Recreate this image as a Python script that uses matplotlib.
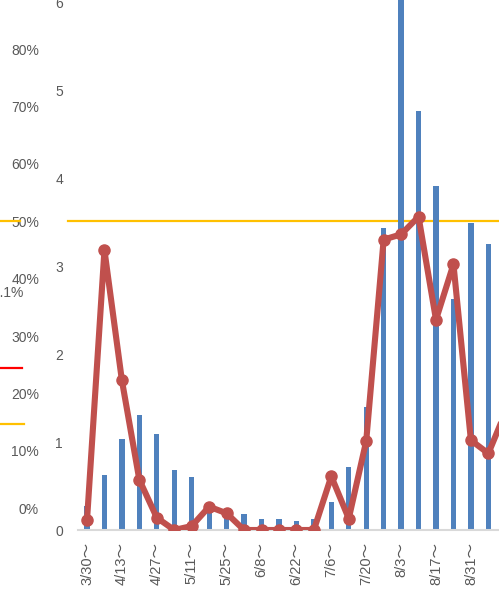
import matplotlib.pyplot as plt
from matplotlib.lines import Line2D

plt.rcParams['font.family'] = ['Liberation Sans', 'Noto Sans CJK JP', 'DejaVu Sans']

# 週 (3/30～ から毎週)
weeks = ["3/30", "4/6", "4/13", "4/20", "4/27", "5/4", "5/11", "5/18", "5/25",
         "6/1", "6/8", "6/15", "6/22", "6/29", "7/6", "7/13", "7/20", "7/27",
         "8/3", "8/10", "8/17", "8/24", "8/31", "9/7", "9/14"]

# 棒 (件数)
counts = [0.27, 0.625, 1.03, 1.31, 1.09, 0.68, 0.60, 0.22, 0.17, 0.18, 0.125,
          0.12, 0.10, 0.125, 0.32, 0.72, 1.40, 3.43, 6.3, 4.76, 3.91, 2.63,
          3.49, 3.25]

# 折れ線
rate = [0.11, 3.18, 1.70, 0.57, 0.14, 0.0, 0.045, 0.265, 0.19, 0.0, 0.0, 0.0,
        0.0, 0.0, 0.61, 0.13, 1.01, 3.30, 3.36, 3.56, 2.39, 3.02, 1.02, 0.87,
        1.35]

count_ticks = [0, 1, 2, 3, 4, 5, 6]
pct_ticks = [0, 10, 20, 30, 40, 50, 60, 70, 80]
threshold = 50

blue = "#4F81BD"
red = "#C0504D"
orange = "#FFC000"
grey = "#595959"

fig = plt.figure(figsize=(4.99, 5.90), dpi=100)
ax = fig.add_axes([78 / 499, 60 / 590, 421 / 499, 530 / 590])

x = list(range(len(weeks)))
ax.bar(x[:len(counts)], counts, width=0.3, color=blue, zorder=2)
ax.plot(x, rate, color=red, lw=4.4, marker="o", markersize=8, zorder=4,
        solid_joinstyle="round")

ax.set_xlim(-0.516, 23.61)
ax.set_ylim(0, 6.023)
ax.set_yticks(count_ticks)
ax.set_yticklabels([str(t) for t in count_ticks])
ax.set_xticks(x[0:23:2])
ax.set_xticklabels([w + "～" for w in weeks[0:23:2]], rotation=90)
ax.tick_params(axis="y", length=0, pad=10.8, labelsize=10, labelcolor=grey)
ax.tick_params(axis="x", length=0, pad=8.5, labelsize=10.5, labelcolor=grey)
for s in ["top", "right", "left"]:
    ax.spines[s].set_visible(False)
ax.spines["bottom"].set_color("#D9D9D9")
ax.spines["bottom"].set_linewidth(1.5)

# パーセント軸 (左側)
ax2 = ax.twinx()
ax2.set_ylim(-3.78, 88.55)
ax2.yaxis.tick_left()
ax2.set_yticks(pct_ticks)
ax2.set_yticklabels([f"{t}%" for t in pct_ticks])
ax2.tick_params(axis="y", length=0, pad=28, labelsize=10, labelcolor=grey)
ax2.set_xlim(ax.get_xlim())
for s in ax2.spines.values():
    s.set_visible(False)
ax2.axhline(threshold, xmin=-10 / 421, xmax=1, color=orange, lw=1.6,
            clip_on=False, zorder=1)
ax2.axhline(threshold, xmin=-78 / 421, xmax=-58 / 421, color=orange, lw=1.6,
            clip_on=False)
ax.set_zorder(ax2.get_zorder() + 1)
ax.patch.set_visible(False)

# 左端に切れて残っている別の凡例の断片
fig.add_artist(Line2D([0, 22 / 499], [1 - 368 / 590, 1 - 368 / 590],
                      color="#FF0000", lw=1.6))
fig.add_artist(Line2D([0, 24 / 499], [1 - 424 / 590, 1 - 424 / 590],
                      color=orange, lw=1.6))
fig.text(23 / 499, 1 - 293 / 590, "1.1%", ha="right", va="center",
         fontsize=10, color=grey)

fig.savefig("out.png", dpi=100)
